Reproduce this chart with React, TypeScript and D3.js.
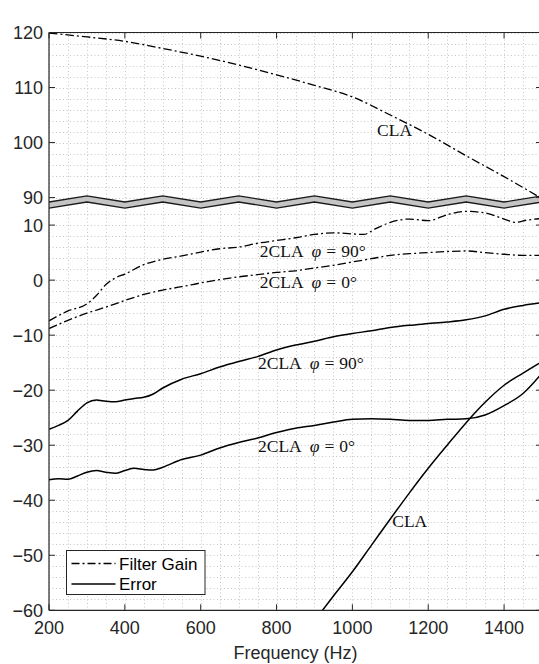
import React from "react";
import * as d3 from "d3";

// ---------- data ----------
// Filter gain, CLA (upper, real dB)
const fgClaFreq = [200, 300, 400, 500, 600, 700, 800, 900, 1000, 1100, 1200, 1300, 1400, 1500];
const fgClaVal = [119.9, 119.2, 118.4, 117.1, 115.7, 114.1, 112.3, 110.4, 108.3, 105.0, 101.5, 97.6, 93.8, 89.8];

// Filter gain, 2CLA phi = 90
const fg90Freq = [200, 250, 300, 325, 350, 375, 400, 450, 500, 550, 600, 650, 700, 750, 800, 850, 900, 950, 1000, 1030, 1060, 1100, 1150, 1200, 1250, 1300, 1350, 1400, 1430, 1460, 1500];
const fg90Val = [-7.4, -5.6, -4.3, -2.8, -0.8, 0.4, 1.1, 2.8, 3.8, 4.4, 5.1, 5.7, 6.0, 6.7, 7.2, 7.7, 8.3, 8.6, 8.4, 8.3, 9.3, 10.5, 11.1, 10.8, 11.9, 12.5, 12.2, 11.1, 10.5, 10.9, 11.2];

// Filter gain, 2CLA phi = 0
const fg0Freq = [200, 250, 300, 350, 400, 450, 500, 550, 600, 650, 700, 750, 800, 850, 900, 950, 1000, 1050, 1100, 1150, 1200, 1250, 1300, 1350, 1400, 1450, 1500];
const fg0Val = [-8.8, -7.3, -6.0, -4.9, -3.7, -2.6, -1.8, -1.2, -0.5, 0.1, 0.6, 1.0, 1.4, 1.7, 2.2, 2.7, 3.3, 3.9, 4.5, 4.8, 5.0, 5.2, 5.3, 5.0, 4.7, 4.5, 4.5];

// Error, 2CLA phi = 90
const er90Freq = [200, 225, 250, 275, 300, 325, 350, 375, 400, 425, 450, 475, 500, 550, 600, 650, 700, 750, 800, 850, 900, 950, 1000, 1050, 1100, 1150, 1200, 1250, 1300, 1350, 1400, 1450, 1500];
const er90Val = [-27.1, -26.4, -25.5, -23.8, -22.3, -21.8, -22.0, -22.1, -21.8, -21.5, -21.3, -20.7, -19.6, -18.0, -17.0, -15.8, -14.8, -13.9, -12.7, -11.8, -11.1, -10.3, -9.7, -9.2, -8.6, -8.2, -7.9, -7.6, -7.2, -6.5, -5.3, -4.6, -4.1];

// Error, 2CLA phi = 0
const er0Freq = [200, 225, 250, 275, 300, 325, 350, 375, 400, 425, 450, 475, 500, 550, 600, 650, 700, 750, 800, 850, 900, 950, 1000, 1050, 1100, 1150, 1200, 1250, 1300, 1350, 1400, 1450, 1500];
const er0Val = [-36.3, -36.1, -36.2, -35.6, -34.9, -34.6, -34.9, -35.1, -34.6, -34.2, -34.4, -34.5, -34.0, -32.6, -31.8, -30.5, -29.5, -28.7, -27.7, -26.9, -26.4, -25.8, -25.3, -25.2, -25.3, -25.5, -25.5, -25.3, -25.2, -24.5, -22.8, -20.6, -16.9];

// Error, CLA
const erClaFreq = [910, 950, 1000, 1050, 1100, 1150, 1200, 1250, 1300, 1350, 1400, 1450, 1500];
const erClaVal = [-61.0, -57.4, -53.0, -48.2, -43.4, -38.7, -34.2, -30.0, -25.9, -22.2, -19.1, -16.9, -14.8];

// axis ticks
const xTicks = [200, 400, 600, 800, 1000, 1200, 1400];
const yTicksLower = [-60, -50, -40, -30, -20, -10, 0, 10];
const yTicksUpper = [90, 100, 110, 120];
const UPPER_OFFSET = 75; // broken axis: upper values shown shifted down by this amount

// break band (display units)
const breakFreq = [200, 300, 400, 500, 600, 700, 800, 900, 1000, 1100, 1200, 1300, 1400, 1500];
const breakTopPeak = 15.3;
const breakTopTrough = 14.2;
const breakThickness = 1.1;

// annotations [freq, display dB, text parts]
const annotations = [
  { f: 1065, v: 101.2 - UPPER_OFFSET, label: "CLA", phi: null as string | null },
  { f: 756, v: 4.2, label: "2CLA", phi: "90°" },
  { f: 756, v: -1.5, label: "2CLA", phi: "0°" },
  { f: 751, v: -16.2, label: "2CLA", phi: "90°" },
  { f: 751, v: -31.2, label: "2CLA", phi: "0°" },
  { f: 1105, v: -44.9, label: "CLA", phi: null as string | null },
];

const legendItems = [
  { label: "Filter Gain", dash: "8,3,2,3" },
  { label: "Error", dash: null as string | null },
];

// ---------- layout ----------
const W = 539;
const H = 664;
const left = 49;
const right = 542;
const top = 32.5;
const bottom = 610.3;

export default function App() {
  const x = d3.scaleLinear().domain([200, 1500]).range([left, right]);
  const y = d3.scaleLinear().domain([-60, 45]).range([bottom, top]);

  const line = d3
    .line<[number, number]>()
    .x((d) => x(d[0]))
    .y((d) => y(d[1]))
    .curve(d3.curveMonotoneX);

  const zip = (fs: number[], vs: number[], off = 0): [number, number][] =>
    fs.map((f, i) => [f, vs[i] - off]);

  const dashDot = "8.5,3,2,3";
  const series = [
    { d: zip(fgClaFreq, fgClaVal, UPPER_OFFSET), dash: dashDot, w: 1.3 },
    { d: zip(fg90Freq, fg90Val), dash: dashDot, w: 1.3 },
    { d: zip(fg0Freq, fg0Val), dash: dashDot, w: 1.3 },
    { d: zip(er90Freq, er90Val), dash: null, w: 1.5 },
    { d: zip(er0Freq, er0Val), dash: null, w: 1.5 },
    { d: zip(erClaFreq, erClaVal), dash: null, w: 1.5 },
  ];

  // grid
  const vGrid = d3.range(200, 1501, 50);
  const hGridLower = d3.range(-60, 13, 2);
  const hGridUpper = d3.range(90, 121, 2).map((v) => v - UPPER_OFFSET);
  const hGrid = [...hGridLower, ...hGridUpper];

  // break band
  const topEdge: [number, number][] = breakFreq.map((f, i) => [
    f,
    i % 2 === 0 ? breakTopTrough : breakTopPeak,
  ]);
  const botEdge: [number, number][] = topEdge.map(([f, v]) => [f, v - breakThickness]);
  const lin = d3
    .line<[number, number]>()
    .x((d) => x(d[0]))
    .y((d) => y(d[1]));
  const bandPath =
    lin(topEdge)! + "L" + lin([...botEdge].reverse())!.slice(1) + "Z";

  const tickFont = "'Liberation Sans', Arial, Helvetica, sans-serif";
  const serif = "'Liberation Serif', 'Times New Roman', serif";
  const axisColor = "#262626";
  const tickLen = 6;

  const yTicksAll = [
    ...yTicksLower.map((v) => ({ v, label: v < 0 ? "\u2212" + Math.abs(v) : String(v) })),
    ...yTicksUpper.map((v) => ({ v: v - UPPER_OFFSET, label: String(v) })),
  ];

  return (
    <svg
      width={W}
      height={H}
      style={{ position: "absolute", left: 0, top: 0, background: "#fff" }}
    >
      <defs>
        <clipPath id="plotClip">
          <rect x={left} y={top} width={right - left} height={bottom - top} />
        </clipPath>
      </defs>
      <rect x={0} y={0} width={W} height={H} fill="#fff" />

      {/* grid */}
      <g stroke="#c6c6c6" strokeWidth={1} strokeDasharray="1,2.5" fill="none">
        {vGrid.map((f) => (
          <line key={"v" + f} x1={Math.round(x(f)) + 0.5} x2={Math.round(x(f)) + 0.5} y1={top} y2={bottom} />
        ))}
        {hGrid.map((v) => (
          <line key={"h" + v} x1={left} x2={right} y1={Math.round(y(v)) + 0.5} y2={Math.round(y(v)) + 0.5} />
        ))}
      </g>

      {/* series */}
      <g clipPath="url(#plotClip)" fill="none" stroke="#000">
        {series.map((s, i) => (
          <path
            key={i}
            d={line(s.d)!}
            strokeWidth={s.w}
            strokeDasharray={s.dash ?? undefined}
          />
        ))}
      </g>

      {/* break band */}
      <g clipPath="url(#plotClip)">
        <path d={bandPath} fill="#c4c4c4" stroke="none" />
        <path d={lin(topEdge)!} fill="none" stroke="#1a1a1a" strokeWidth={1.3} />
        <path d={lin(botEdge)!} fill="none" stroke="#1a1a1a" strokeWidth={1.3} />
      </g>

      {/* annotations */}
      <g fontFamily={serif} fontSize={17.5} fill="#111">
        {annotations.map((a, i) => (
          <text key={i} x={x(a.f)} y={y(a.v)}>
            {a.label}
            {a.phi && (
              <>
                <tspan dx={8} fontStyle="italic">φ</tspan>
                <tspan dx={5}>=</tspan>
                <tspan dx={5}>{a.phi}</tspan>
              </>
            )}
          </text>
        ))}
      </g>

      {/* axes box */}
      <g stroke={axisColor} fill="none">
        <line x1={left} x2={left} y1={top} y2={bottom} strokeWidth={1.2} />
        <line x1={left} x2={right} y1={bottom} y2={bottom} strokeWidth={1.2} />
        <line x1={left} x2={right} y1={top} y2={top} strokeWidth={1.2} />
        <line x1={right} x2={right} y1={top} y2={bottom} strokeWidth={1.2} />
        {xTicks.map((f) => (
          <g key={"xt" + f}>
            <line x1={x(f)} x2={x(f)} y1={bottom} y2={bottom - tickLen} />
            <line x1={x(f)} x2={x(f)} y1={top} y2={top + tickLen} />
          </g>
        ))}
        {yTicksAll.map((t) => (
          <g key={"yt" + t.v}>
            <line x1={left} x2={left + tickLen} y1={y(t.v)} y2={y(t.v)} />
            <line x1={right} x2={right - tickLen} y1={y(t.v)} y2={y(t.v)} />
          </g>
        ))}
      </g>

      {/* tick labels */}
      <g fontFamily={tickFont} fontSize={18} fill="#262626">
        {xTicks.map((f) => (
          <text key={"xl" + f} x={x(f)} y={bottom + 24} textAnchor="middle">
            {f}
          </text>
        ))}
        {yTicksAll.map((t) => (
          <text key={"yl" + t.v} x={left - 6} y={y(t.v) + 6.5} textAnchor="end">
            {t.label}
          </text>
        ))}
        <text x={x(850)} y={H - 5} textAnchor="middle" fontSize={18}>
          Frequency (Hz)
        </text>
      </g>

      {/* legend */}
      <g>
        <rect x={66.5} y={550.5} width={138.5} height={44} fill="#fff" stroke={axisColor} strokeWidth={1} />
        {legendItems.map((it, i) => (
          <g key={it.label}>
            <line
              x1={71.5}
              x2={115.5}
              y1={563.5 + i * 20.5}
              y2={563.5 + i * 20.5}
              stroke="#000"
              strokeWidth={1.3}
              strokeDasharray={it.dash ?? undefined}
            />
            <text
              x={119}
              y={563.5 + i * 20.5 + 6}
              fontFamily={tickFont}
              fontSize={17}
              fill="#000"
            >
              {it.label}
            </text>
          </g>
        ))}
      </g>
    </svg>
  );
}
